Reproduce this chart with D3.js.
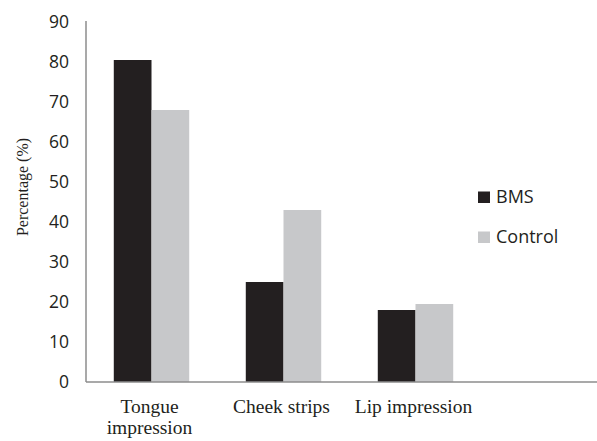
<!DOCTYPE html>
<html lang="en">
<head>
    <meta charset="UTF-8">
    <title>Percentage by impression type</title>
    <script src="https://d3js.org/d3.v7.min.js"></script>
    <style>
        body { margin: 0; background: #fff; }
        .tick-label { font-family: "Open Sans", sans-serif; font-size: 17.5px; fill: #231f20; }
        .legend text { font-family: "Open Sans", sans-serif; font-size: 18px; fill: #231f20; }
        .cat-label, .y-title { font-family: "Liberation Serif", "Times New Roman", serif; fill: #231f20; }
    </style>
</head>
<body>
    <svg width="597" height="441"></svg>

    <script>
        // Data
        const categories = [["Tongue", "impression"], ["Cheek strips"], ["Lip impression"]];
        const seriesNames = ["BMS", "Control"];
        const bmsValues = [80.5, 25, 18];
        const controlValues = [68, 43, 19.5];
        const yTicks = [0, 10, 20, 30, 40, 50, 60, 70, 80, 90];
        const colors = ["#231f20", "#c7c8ca"];

        const svg = d3.select("svg");

        // plot box (the axis runs on past the last group, like the original)
        const plotLeft = 86, baseline = 382, plotTop = 22, plotRight = 597;
        const catWidth = 132;

        const x = d3.scaleBand()
            .domain(d3.range(categories.length))
            .range([plotLeft - 0.5, plotLeft - 0.5 + catWidth * categories.length])
            .paddingInner(0)
            .paddingOuter(0);
        const sub = d3.scaleBand().domain(seriesNames).range([0, x.bandwidth()]).paddingOuter(0.75).paddingInner(0);
        const y = d3.scaleLinear().domain([0, 90]).range([baseline, plotTop]);

        // Bars
        const rows = categories.map((c, i) => ({ i, vals: [bmsValues[i], controlValues[i]] }));
        const groups = svg.selectAll(".group")
            .data(rows)
            .enter().append("g")
            .attr("class", "group")
            .attr("transform", d => `translate(${x(d.i)},0)`);
        groups.selectAll("rect")
            .data(d => d.vals.map((v, k) => ({ name: seriesNames[k], v, k })))
            .enter().append("rect")
            .attr("x", d => sub(d.name))
            .attr("width", sub.bandwidth())
            .attr("y", d => y(d.v))
            .attr("height", d => y(0) - y(d.v))
            .attr("fill", d => colors[d.k]);

        // Y axis
        const yAxis = d3.axisLeft(y).tickValues(yTicks).tickSize(0).tickPadding(17);
        const yg = svg.append("g")
            .attr("transform", `translate(${plotLeft},0)`)
            .call(yAxis);
        yg.select(".domain").remove();
        yg.attr("font-family", null).attr("font-size", null);
        yg.selectAll("text").attr("class", "tick-label");

        // axis lines
        svg.append("line")
            .attr("x1", plotLeft).attr("x2", plotLeft).attr("y1", plotTop - 1).attr("y2", baseline)
            .attr("stroke", "#8c8c8c").attr("stroke-width", 1.5);
        svg.append("line")
            .attr("x1", plotLeft).attr("x2", plotRight).attr("y1", baseline).attr("y2", baseline)
            .attr("stroke", "#8c8c8c").attr("stroke-width", 1.5);

        // Category labels (two lines for the first one)
        svg.selectAll(".cat-label")
            .data(categories)
            .enter().append("text")
            .attr("class", "cat-label")
            .attr("font-size", 19.5)
            .attr("text-anchor", "middle")
            .attr("x", (d, i) => x(i) + x.bandwidth() / 2 - 2)
            .attr("y", 413)
            .each(function (d) {
                d.forEach((line, j) => {
                    d3.select(this).append("tspan")
                        .attr("x", d3.select(this).attr("x"))
                        .attr("dy", j === 0 ? 0 : 21)
                        .text(line);
                });
            });

        // Y title
        svg.append("text")
            .attr("class", "y-title")
            .attr("font-size", 16)
            .attr("transform", "translate(28,187) rotate(-90)")
            .attr("text-anchor", "middle")
            .text("Percentage (%)");

        // Legend
        const legend = svg.append("g").attr("class", "legend").attr("transform", "translate(478,191.5)");
        seriesNames.forEach((name, k) => {
            const row = legend.append("g").attr("transform", `translate(0,${k * 40})`);
            row.append("rect").attr("width", 12).attr("height", 11.5).attr("fill", colors[k]);
            row.append("text").attr("x", 18).attr("y", 11.5).text(name);
        });
    </script>
</body>
</html>
